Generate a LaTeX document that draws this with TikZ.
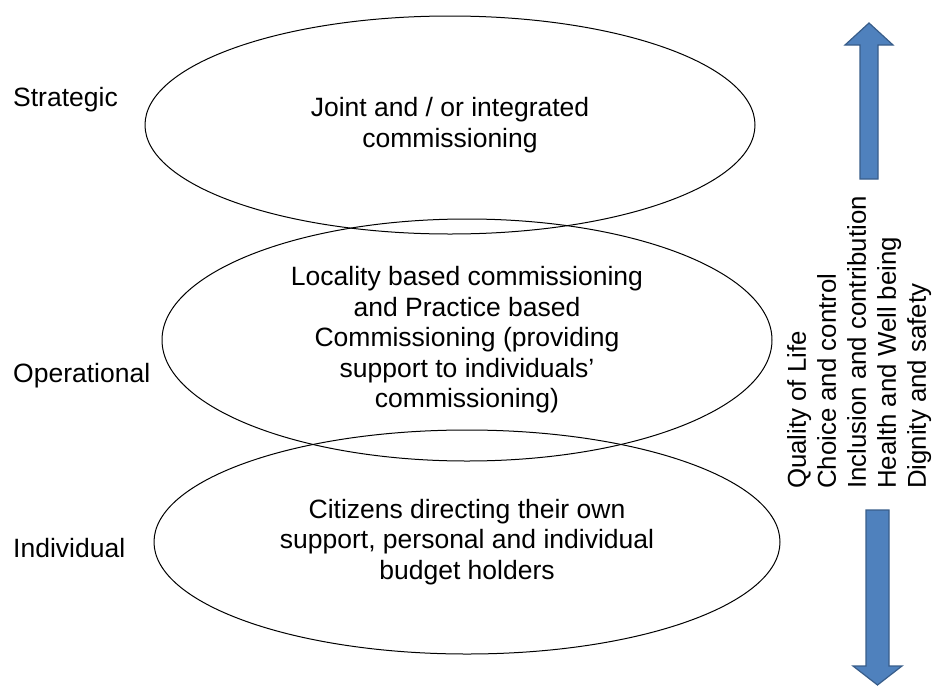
\documentclass[tikz,border=0pt]{standalone}
\usepackage{fontspec}
\setmainfont{Liberation Sans}
\usetikzlibrary{shapes.geometric}
\definecolor{arrowfill}{HTML}{4F81BD}
\definecolor{arrowline}{HTML}{385D8A}
\begin{document}
\begin{tikzpicture}[x=1pt,y=-1pt,
  ell/.style={draw=black, line width=1pt, ellipse, inner sep=0pt},
  body/.style={align=center, font=\fontsize{26.5}{30.5}\selectfont, inner sep=0pt},
  lbl/.style={anchor=west, font=\fontsize{26.5}{30.5}\selectfont, inner sep=0pt},
  blockarrow/.style={fill=arrowfill, draw=arrowline, line width=1.2pt, line join=miter}]
\useasboundingbox (0,0) rectangle (943,686);
% ellipses
\node[ell, minimum width=610pt, minimum height=218pt] (e1) at (450,125) {};
\node[ell, minimum width=610pt, minimum height=242pt] (e2) at (467,340) {};
\node[ell, minimum width=626pt, minimum height=224pt] (e3) at (467,542) {};
% ellipse texts
\node[body] (t1) at (e1.center) {Joint and / or integrated\\commissioning};
\node[body] (t2) at (e2.center) {Locality based commissioning\\and Practice based\\Commissioning (providing\\support to individuals’\\commissioning)};
\node[body] (t3) at (e3.center) {Citizens directing their own\\support, personal and individual\\budget holders};
% level labels
\node[lbl] (ls) at (13,100) {Strategic};
\node[lbl] (lo) at (13,376) {Operational};
\node[lbl] (li) at (13,548) {Individual};
% outcomes text
\node[rotate=90, anchor=north west, align=left, inner sep=0pt,
      font=\fontsize{25.8}{30}\selectfont] (vals) at (787,489)
  {Quality of Life\\Choice and control\\Inclusion and contribution\\Health and Well being\\Dignity and safety};
% block arrows
\draw[blockarrow] (869,23) -- (893,45) -- (878,45) -- (878,179) -- (860,179) -- (860,45) -- (845,45) -- cycle;
\draw[blockarrow] (866,510) -- (889,510) -- (889,666) -- (902,666) -- (877.5,685) -- (853,666) -- (866,666) -- cycle;
\end{tikzpicture}
\end{document}
